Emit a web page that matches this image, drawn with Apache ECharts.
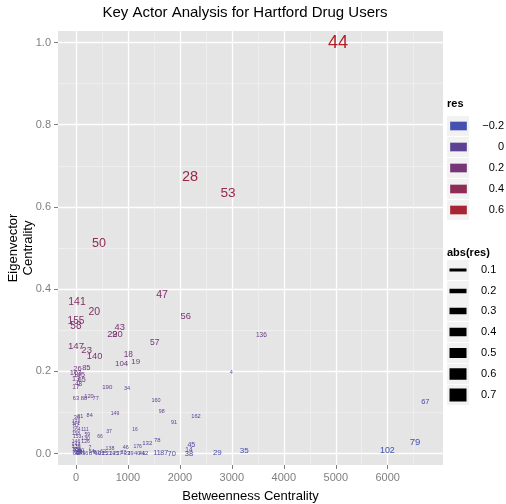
<!DOCTYPE html>
<html>
<head>
<meta charset="utf-8">
<script src="https://cdn.jsdelivr.net/npm/echarts@6/dist/echarts.min.js"></script>
<style>
html,body{margin:0;padding:0;background:#fff;}
#chart{width:506px;height:504px;}
</style>
</head>
<body>
<div id="chart"></div>
<script>
// ---- data ----
const ids = ["44","28","53","50","47","141","20","155","58","56","43","22","90","57","147","23","140","18","19","104",
  "136","4","67","79","102","35","29","38","14","45","70","11","87","162","91","78","132","160","98","26",
  "85","161","145","13","65","48","17","190","34","63","88","120","77","149","84","36","31","16","37","66",
  "82","111","59","130","126","7","46","176","138","173","171","164","158","153","146","143","139","134",
  "1","2","3","5","6","8","9","10","12","15","21","24","25","27","32","33","39","40","41","42","49","51","52","54","55","60","61","62","64","68"];
const betweenness = [5043,2194,2926,443,1655,19,353,0,0,2112,841,700,800,1515,0,205,359,1008,1149,879,
  3568,2990,6724,6525,5993,3240,2720,2175,2175,2220,1842,1560,1700,2310,1886,1566,1373,1540,1650,30,
  200,0,60,0,110,50,0,603,982,0,154,250,379,751,263,20,80,1135,635,462,
  0,173,218,185,185,270,957,1188,654,0,0,10,0,20,0,0,0,10,
  0,40,90,150,210,280,350,420,490,560,630,700,770,840,910,980,1050,1180,1270,1330,60,120,20,300,0,100,400,520,0,50];
const eigenvector = [1.0,0.672,0.634,0.512,0.385,0.368,0.344,0.321,0.310,0.333,0.306,0.289,0.290,0.270,0.260,0.250,0.237,0.240,0.224,0.217,
  0.288,0.196,0.125,0.027,0.008,0.006,0.001,0.000,0.007,0.020,0.000,0.001,0.002,0.089,0.075,0.031,0.024,0.128,0.102,0.206,
  0.207,0.196,0.192,0.180,0.178,0.168,0.161,0.160,0.158,0.133,0.133,0.138,0.133,0.098,0.093,0.088,0.089,0.059,0.054,0.042,
  0.068,0.058,0.046,0.037,0.028,0.015,0.014,0.016,0.011,0.078,0.072,0.058,0.049,0.040,0.030,0.022,0.016,0.009,
  0.003,0.000,0.002,0.000,0.001,0.000,0.002,0.000,0.001,0.000,0.001,0.000,0.001,0.000,0.002,0.000,0.001,0.000,0.001,0.000,0.004,0.003,0.006,0.004,0.010,0.008,0.003,0.004,0.001,0.001];
const res = [0.68,0.50,0.46,0.40,0.30,0.30,0.30,0.28,0.28,0.24,0.24,0.24,0.24,0.20,0.26,0.25,0.24,0.19,0.17,0.17,
  0.10,0.02,-0.15,-0.25,-0.22,-0.18,-0.17,-0.15,-0.10,-0.13,-0.15,-0.13,-0.13,-0.06,-0.05,-0.07,-0.08,0.05,0.04,0.15,
  0.15,0.15,0.13,0.13,0.13,0.10,0.10,0.08,0.05,0.06,0.06,0.06,0.06,0.03,0.05,0.06,0.05,0.02,0.03,0.03,
  0.03,0.02,0.03,0.03,0.03,0.04,0.05,0.03,0.04,0.02,0.02,0.02,0.02,0.02,0.03,0.04,0.05,0.05,
  -0.06,-0.06,-0.05,-0.06,-0.05,-0.06,-0.05,-0.05,-0.05,-0.04,-0.05,-0.04,-0.05,-0.05,-0.05,-0.06,-0.05,-0.07,-0.07,-0.07,-0.04,-0.05,-0.04,-0.03,-0.03,-0.02,-0.04,-0.03,-0.08,-0.08];

const xTicks = [0,1000,2000,3000,4000,5000,6000];
const xMinor = [500,1500,2500,3500,4500,5500,6500];
const yTicks = [0,0.2,0.4,0.6,0.8,1.0];
const yMinor = [0.1,0.3,0.5,0.7,0.9];
const resBreaks = [-0.2,0,0.2,0.4,0.6];
const sizeBreaks = [0.1,0.2,0.3,0.4,0.5,0.6,0.7];

// colour scale (res) and size scale (abs(res))
const colorMin = -0.3, colorMax = 0.7;
const colorStops = ['#3b58c2','#4f489f','#683a87','#813067','#9b2743','#b51e22'];
function hexToRgb(h){return [parseInt(h.slice(1,3),16),parseInt(h.slice(3,5),16),parseInt(h.slice(5,7),16)];}
function colorFor(v){
  let t = (v-colorMin)/(colorMax-colorMin)*(colorStops.length-1);
  t = Math.max(0, Math.min(colorStops.length-1, t));
  const i = Math.min(Math.floor(t), colorStops.length-2), f = t-i;
  const a = hexToRgb(colorStops[i]), b = hexToRgb(colorStops[i+1]);
  return 'rgb(' + a.map((c,k)=>Math.round(c+(b[k]-c)*f)).join(',') + ')';
}
function fontFor(a){ return 4.5 + 20*a; }

const FONT = '"Liberation Sans", Arial, Helvetica, sans-serif';
const data = ids.map((id,i)=>[betweenness[i], eigenvector[i], res[i], Math.abs(res[i])]);

// legend and axis-title graphics
const legend = [];
legend.push({type:'text', x:21, y:248, rotation:Math.PI/2,
  style:{text:'Eigenvector\nCentrality', font:'13px '+FONT, fill:'#000', align:'center', verticalAlign:'middle', lineHeight:15}});
legend.push({type:'text', x:447, y:104, style:{text:'res', font:'bold 11px '+FONT, fill:'#000', verticalAlign:'middle'}});
const resY = [126,147,168,189,210];
resBreaks.forEach((b,i)=>{
  legend.push({type:'rect', shape:{x:447,y:resY[i]-10,width:22,height:20}, style:{fill:'#f2f2f2'}});
  legend.push({type:'rect', shape:{x:450,y:resY[i]-4.5,width:17,height:9}, style:{fill:colorFor(b), stroke:'rgba(255,255,255,0.5)', lineWidth:0.6}});
  legend.push({type:'text', x:504, y:resY[i], style:{text:(b===0?'0':(b<0?'\u2212'+Math.abs(b).toFixed(1):b.toFixed(1))), font:'11px '+FONT, fill:'#000', align:'right', verticalAlign:'middle'}});
});
legend.push({type:'text', x:447, y:253, style:{text:'abs(res)', font:'bold 11px '+FONT, fill:'#000', verticalAlign:'middle'}});
const sizeY = [270,291,311,332,353,374,395];
const barH = [3,4.5,6.5,8.5,10,11.5,13];
sizeBreaks.forEach((b,i)=>{
  legend.push({type:'rect', shape:{x:447,y:sizeY[i]-10,width:22,height:20}, style:{fill:'#f2f2f2'}});
  legend.push({type:'rect', shape:{x:449.5,y:sizeY[i]-barH[i]/2,width:17,height:barH[i]}, style:{fill:'#000'}});
  legend.push({type:'text', x:481, y:sizeY[i], style:{text:b.toFixed(1), font:'11px '+FONT, fill:'#000', verticalAlign:'middle'}});
});

const xMin = -346, xMax = 7064, yMin = -0.028, yMax = 1.028;
const chart = echarts.init(document.getElementById('chart'), null, {renderer:'canvas'});
chart.setOption({
  animation:false,
  backgroundColor:'#fff',
  textStyle:{fontFamily:FONT},
  title:{text:'Key Actor Analysis for Hartford Drug Users', left:240, top:0, textAlign:'center',
    textStyle:{fontSize:15, fontWeight:'normal', color:'#000', fontFamily:FONT}},
  grid:{left:58, right:63, top:31, bottom:39, show:true, backgroundColor:'#e5e5e5', borderWidth:0,
    containLabel:false, outerBoundsMode:'none'},
  xAxis:[
    {type:'value', min:xMin, max:xMax, position:'bottom',
     name:'Betweenness Centrality', nameLocation:'middle', nameGap:25,
     nameTextStyle:{fontSize:13, color:'#000', fontFamily:FONT},
     axisLine:{show:false, onZero:false},
     axisTick:{show:true, length:4, lineStyle:{color:'#7f7f7f'}, customValues:xTicks},
     axisLabel:{customValues:xTicks, color:'#7f7f7f', fontSize:11, margin:7, fontFamily:FONT,
       formatter:v=>String(Math.round(v))},
     splitLine:{show:true, lineStyle:{color:'#ffffff', width:1.3}}},
    {type:'value', min:xMin, max:xMax, position:'bottom',
     axisLine:{show:false, onZero:false}, axisTick:{show:false, customValues:xMinor},
     axisLabel:{show:false, customValues:xMinor},
     splitLine:{show:true, lineStyle:{color:'#f2f2f2', width:0.7}}}
  ],
  yAxis:[
    {type:'value', min:yMin, max:yMax, position:'left',
     axisLine:{show:false, onZero:false},
     axisTick:{show:true, length:4, lineStyle:{color:'#7f7f7f'}, customValues:yTicks},
     axisLabel:{customValues:yTicks, color:'#7f7f7f', fontSize:11, margin:7, fontFamily:FONT,
       formatter:v=>Number(v).toFixed(1)},
     splitLine:{show:true, lineStyle:{color:'#ffffff', width:1.3}}},
    {type:'value', min:yMin, max:yMax, position:'left',
     axisLine:{show:false, onZero:false}, axisTick:{show:false, customValues:yMinor},
     axisLabel:{show:false, customValues:yMinor},
     splitLine:{show:true, lineStyle:{color:'#f2f2f2', width:0.7}}}
  ],
  visualMap:{type:'continuous', show:false, dimension:2, min:colorMin, max:colorMax, seriesIndex:0,
    inRange:{color:colorStops}},
  graphic:legend,
  series:[{
    type:'custom', xAxisIndex:0, yAxisIndex:0, clip:false,
    encode:{x:0, y:1},
    data:data,
    renderItem:function(params, api){
      const p = api.coord([api.value(0), api.value(1)]);
      const fs = fontFor(api.value(3));
      return {type:'text', x:p[0], y:p[1],
        style:{text:ids[params.dataIndex], fill:api.visual('color'),
          font:fs.toFixed(1)+'px '+FONT, align:'center', verticalAlign:'middle'}};
    }
  }]
});
</script>
</body>
</html>
